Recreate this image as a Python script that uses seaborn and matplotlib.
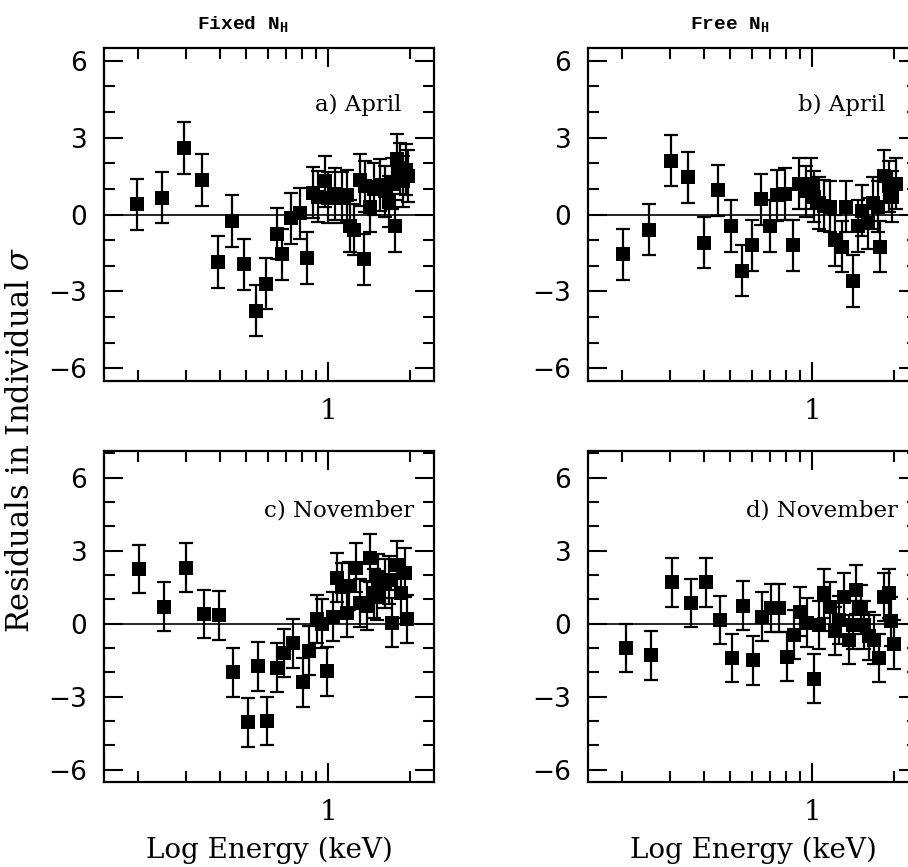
import numpy as np
import pandas as pd
import matplotlib
matplotlib.use("Agg")
import matplotlib.pyplot as plt
from matplotlib.ticker import MultipleLocator, NullFormatter
import seaborn as sns

# --- data (energy in keV, residual in sigma) ---
energy_a = [0.198, 0.246, 0.296, 0.345, 0.395, 0.443, 0.491, 0.542, 0.590, 0.651,
            0.679, 0.730, 0.785, 0.835, 0.879, 0.921, 0.975, 1.00, 1.06, 1.12,
            1.17, 1.20, 1.24, 1.31, 1.36, 1.37, 1.43, 1.47, 1.55, 1.62,
            1.67, 1.72, 1.76, 1.79, 1.83, 1.88, 1.94, 1.97]
resid_a = [0.4, 0.65, 2.6, 1.35, -1.85, -0.25, -1.95, -3.75, -2.7, -0.75,
           -1.55, -0.15, 0.05, -1.7, 0.85, 0.7, 1.3, 0.65, 0.8, 0.65,
           0.75, -0.45, -0.6, 1.35, -1.75, 1.1, 0.3, 1.0, 1.15, 0.9,
           0.5, 1.2, -0.45, 2.15, 1.8, 1.3, 1.75, 1.5]

energy_b = [0.202, 0.252, 0.302, 0.350, 0.401, 0.449, 0.502, 0.550, 0.600, 0.651,
            0.699, 0.745, 0.796, 0.847, 0.896, 0.948, 0.990, 1.02, 1.06, 1.11,
            1.16, 1.21, 1.29, 1.33, 1.41, 1.47, 1.53, 1.60, 1.67, 1.74,
            1.78, 1.84, 1.92, 1.97, 2.03]
resid_b = [-1.55, -0.6, 2.1, 1.45, -1.1, 0.95, -0.45, -2.2, -1.2, 0.6,
           -0.45, 0.75, 0.8, -1.2, 1.2, 0.9, 1.2, 0.7, 0.45, 0.35,
           0.3, -1.0, -1.25, 0.3, -2.6, -0.45, 0.15, -0.35, 0.45, 0.3,
           -1.25, 1.5, 1.1, 0.7, 1.2]

energy_c = [0.201, 0.250, 0.300, 0.351, 0.398, 0.446, 0.507, 0.550, 0.598, 0.651,
            0.689, 0.745, 0.807, 0.847, 0.909, 0.948, 0.989, 1.045, 1.08, 1.12,
            1.17, 1.19, 1.27, 1.31, 1.39, 1.43, 1.47, 1.51, 1.53, 1.62,
            1.67, 1.71, 1.79, 1.85, 1.92, 1.95]
resid_c = [2.25, 0.7, 2.3, 0.4, 0.35, -2.0, -4.05, -1.75, -4.0, -1.8,
           -1.2, -0.8, -2.4, -1.1, 0.2, 0.0, -1.95, 0.3, 1.9, 1.5,
           0.45, 1.55, 2.3, 0.85, 0.75, 2.7, 1.25, 1.15, 1.85, 1.65,
           1.8, 0.05, 2.4, 1.25, 2.1, 0.2]

energy_d = [0.207, 0.255, 0.306, 0.358, 0.406, 0.458, 0.509, 0.557, 0.607, 0.656,
            0.705, 0.756, 0.811, 0.859, 0.904, 0.957, 1.017, 1.06, 1.11, 1.16,
            1.21, 1.26, 1.31, 1.37, 1.41, 1.45, 1.51, 1.55, 1.62, 1.69,
            1.76, 1.84, 1.92, 1.95, 2.00]
resid_d = [-1.0, -1.3, 1.7, 0.85, 1.7, 0.15, -1.4, 0.75, -1.5, 0.3,
           0.65, 0.65, -1.35, -0.45, 0.5, 0.05, -2.25, -0.05, 1.25, 0.7,
           -0.3, 0.15, 1.1, -0.65, -0.05, 1.4, 0.6, -0.05, -0.5, -0.65,
           -1.4, 1.1, 1.25, 0.1, -0.85]

sigma_err = 1.0  # residuals are in units of individual sigma

panel_labels = ["a) April", "b) April", "c) November", "d) November"]
column_titles = [r"Fixed N$_\mathregular{H}$", r"Free N$_\mathregular{H}$"]
xlabel = "Log Energy (keV)"
ylabel = r"Residuals in Individual $\sigma$"

sns.set_theme(style="ticks")
plt.rcParams["font.family"] = ["DejaVu Serif"]
plt.rcParams["mathtext.fontset"] = "dejavuserif"
plt.rcParams["axes.unicode_minus"] = True
for key in ["text.color", "axes.labelcolor", "xtick.color", "ytick.color", "axes.edgecolor"]:
    plt.rcParams[key] = "black"

W, H = 908, 867
fig = plt.figure(figsize=(W / 100, H / 100), dpi=100)


def px_axes(left, top, right, bottom):
    return fig.add_axes([left / W, 1 - bottom / H, (right - left) / W, (bottom - top) / H])


panels = [
    (energy_a, resid_a, px_axes(104, 48, 434, 381), (-6.5, 6.5)),
    (energy_b, resid_b, px_axes(588, 48, 918, 381), (-6.5, 6.5)),
    (energy_c, resid_c, px_axes(104, 451, 434, 782), (-6.5, 7.1)),
    (energy_d, resid_d, px_axes(588, 451, 918, 782), (-6.5, 7.1)),
]

for i, (en, res, ax, ylim) in enumerate(panels):
    df = pd.DataFrame({"energy": en, "resid": res})
    ax.set_xscale("log")
    ax.axhline(0, color="black", lw=1.2, zorder=1)
    ax.errorbar(df["energy"], df["resid"], yerr=sigma_err, fmt="none",
                ecolor="black", elinewidth=1.6, capsize=4.8, capthick=1.6, zorder=2)
    sns.scatterplot(data=df, x="energy", y="resid", marker="s", s=115,
                    color="black", linewidth=0, ax=ax, zorder=3)
    ax.set_xlim(0.15, 2.45)
    ax.set_ylim(*ylim)

    ax.set_xticks([1])
    ax.set_xticklabels(["1"])
    ax.set_xticks([0.2, 0.3, 0.4, 0.5, 0.6, 0.7, 0.8, 0.9, 2], minor=True)
    ax.xaxis.set_minor_formatter(NullFormatter())
    ax.set_yticks([-6, -3, 0, 3, 6])
    ax.yaxis.set_minor_locator(MultipleLocator(1))
    ax.tick_params(which="both", direction="in", top=True, right=True,
                   width=1.5, color="black")
    ax.tick_params(which="major", length=14)
    ax.tick_params(which="minor", length=8)
    ax.tick_params(axis="x", labelsize=20, pad=12)
    ax.tick_params(axis="y", labelsize=19, pad=12)
    for lbl in ax.get_yticklabels():
        lbl.set_fontfamily("DejaVu Sans")
    for sp in ax.spines.values():
        sp.set_linewidth(1.6)

    ax.set_xlabel(xlabel if i >= 2 else "", fontsize=20, labelpad=8)
    ax.set_ylabel("")
    ax.text(0.9 if i < 2 else 0.94, 0.83 if i < 2 else 0.82, panel_labels[i],
            transform=ax.transAxes, ha="right", va="center", fontsize=16.5)

# column titles sit a little left of the panel centres
fig.text(243 / W, 1 - 29 / H, column_titles[0], ha="center", va="baseline",
         fontsize=14, fontweight="bold", family="Liberation Mono")
fig.text(730 / W, 1 - 29 / H, column_titles[1], ha="center", va="baseline",
         fontsize=14, fontweight="bold", family="Liberation Mono")

fig.text(21 / W, 1 - 440 / H, ylabel, rotation=90, ha="center", va="center", fontsize=22)

fig.savefig("out.png", dpi=100)
